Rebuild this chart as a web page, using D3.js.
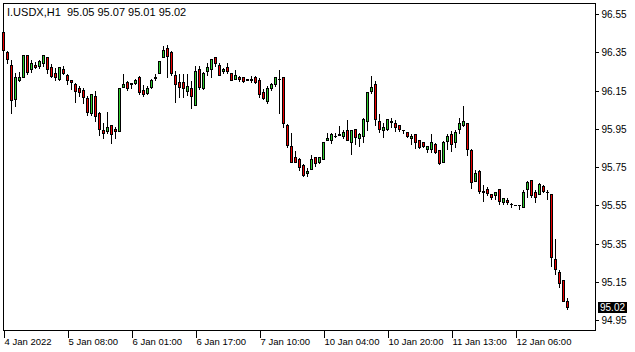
<!DOCTYPE html>
<html>
<head>
<meta charset="utf-8">
<script src="https://cdn.jsdelivr.net/npm/d3@7"></script>
<style>
    body { margin: 0; background: #fff; }
    svg text { font-family: "Liberation Sans", Arial, sans-serif; fill: #000; }
</style>
</head>
<body>
<div id="chart"></div>
<script>
// I.USDX H1 candles (oldest first)
var symbol = "I.USDX";
var timeframe = "H1";

var open = [96.456, 96.351, 96.283, 96.105, 96.205, 96.220, 96.335, 96.262, 96.283, 96.278,
    96.294, 96.325, 96.273, 96.241, 96.210, 96.262, 96.231, 96.205, 96.184, 96.163,
    96.152, 96.111, 96.032, 96.121, 96.032, 95.943, 95.938, 95.969, 95.948, 95.938,
    96.168, 96.194, 96.189, 96.189, 96.220, 96.152, 96.137, 96.168, 96.215, 96.241,
    96.325, 96.372, 96.351, 96.231, 96.194, 96.194, 96.147, 96.163, 96.074, 96.262,
    96.163, 96.252, 96.262, 96.325, 96.283, 96.252, 96.273, 96.241, 96.210, 96.220,
    96.220, 96.210, 96.208, 96.220, 96.205, 96.142, 96.095, 96.163, 96.184, 96.210,
    96.220, 95.969, 95.860, 95.802, 95.792, 95.760, 95.718, 95.739, 95.802, 95.776,
    95.792, 95.891, 95.891, 95.912, 95.917, 95.912, 95.943, 95.880, 95.948, 95.901,
    95.912, 95.990, 96.147, 96.184, 95.990, 95.943, 95.948, 95.990, 95.980, 95.969,
    95.943, 95.933, 95.901, 95.922, 95.891, 95.880, 95.844, 95.844, 95.870, 95.839,
    95.776, 95.886, 95.922, 95.880, 95.948, 95.969, 95.980, 95.839, 95.677, 95.729,
    95.622, 95.634, 95.609, 95.603, 95.634, 95.567, 95.578, 95.557, 95.553, 95.551,
    95.541, 95.634, 95.682, 95.619, 95.609, 95.650, 95.620, 95.609, 95.269, 95.201,
    95.159, 95.05];
var high = [96.461, 96.362, 96.314, 96.247, 96.252, 96.335, 96.335, 96.314, 96.304, 96.314,
    96.335, 96.325, 96.294, 96.273, 96.278, 96.283, 96.241, 96.210, 96.194, 96.179,
    96.168, 96.126, 96.137, 96.152, 96.043, 95.985, 96.043, 95.969, 95.964, 96.163,
    96.241, 96.205, 96.194, 96.215, 96.231, 96.184, 96.179, 96.215, 96.241, 96.304,
    96.388, 96.393, 96.362, 96.257, 96.241, 96.241, 96.241, 96.205, 96.283, 96.283,
    96.252, 96.299, 96.314, 96.325, 96.299, 96.273, 96.299, 96.241, 96.262, 96.231,
    96.220, 96.210, 96.231, 96.231, 96.220, 96.163, 96.179, 96.194, 96.220, 96.262,
    96.220, 95.980, 95.933, 95.839, 95.802, 95.771, 95.750, 95.818, 95.802, 95.802,
    95.880, 95.933, 95.933, 95.933, 95.969, 95.948, 96.001, 95.943, 95.954, 95.933,
    96.011, 96.147, 96.231, 96.205, 96.032, 95.985, 96.001, 96.011, 96.001, 95.969,
    95.948, 95.933, 95.928, 95.928, 95.891, 95.880, 95.860, 95.928, 95.880, 95.839,
    95.891, 95.928, 95.943, 95.948, 96.011, 96.074, 95.980, 95.849, 95.739, 95.739,
    95.661, 95.650, 95.609, 95.619, 95.634, 95.593, 95.593, 95.567, 95.553, 95.556,
    95.634, 95.682, 95.682, 95.634, 95.671, 95.661, 95.634, 95.609, 95.379, 95.216,
    95.159, 95.07];
var low = [96.330, 96.294, 96.032, 96.069, 96.199, 96.220, 96.236, 96.247, 96.267, 96.267,
    96.278, 96.241, 96.220, 96.205, 96.205, 96.236, 96.184, 96.158, 96.090, 96.121,
    96.084, 96.022, 96.022, 95.990, 95.917, 95.901, 95.928, 95.875, 95.901, 95.938,
    96.168, 96.152, 96.163, 96.184, 96.131, 96.121, 96.131, 96.163, 96.205, 96.241,
    96.325, 96.220, 96.231, 96.090, 96.116, 96.116, 96.126, 96.058, 96.074, 96.158,
    96.158, 96.231, 96.220, 96.278, 96.231, 96.241, 96.241, 96.205, 96.210, 96.199,
    96.194, 96.205, 96.194, 96.189, 96.116, 96.105, 96.084, 96.152, 96.173, 96.032,
    95.959, 95.854, 95.776, 95.776, 95.734, 95.703, 95.703, 95.739, 95.755, 95.771,
    95.792, 95.891, 95.875, 95.907, 95.917, 95.901, 95.891, 95.818, 95.870, 95.860,
    95.880, 95.943, 96.137, 95.969, 95.933, 95.907, 95.943, 95.959, 95.938, 95.938,
    95.928, 95.907, 95.870, 95.849, 95.849, 95.854, 95.828, 95.828, 95.823, 95.765,
    95.776, 95.844, 95.833, 95.854, 95.928, 95.964, 95.813, 95.640, 95.677, 95.614,
    95.572, 95.603, 95.583, 95.583, 95.556, 95.556, 95.556, 95.541, 95.549, 95.530,
    95.541, 95.593, 95.593, 95.567, 95.609, 95.619, 95.583, 95.232, 95.190, 95.122,
    95.049, 95.01];
var close = [96.362, 96.314, 96.100, 96.220, 96.220, 96.335, 96.247, 96.294, 96.273, 96.304,
    96.335, 96.262, 96.226, 96.220, 96.273, 96.241, 96.205, 96.194, 96.147, 96.142,
    96.116, 96.037, 96.131, 96.016, 95.948, 95.928, 95.959, 95.922, 95.938, 96.163,
    96.184, 96.163, 96.184, 96.205, 96.142, 96.131, 96.163, 96.205, 96.220, 96.304,
    96.362, 96.330, 96.241, 96.184, 96.168, 96.163, 96.173, 96.121, 96.252, 96.168,
    96.241, 96.273, 96.314, 96.294, 96.231, 96.262, 96.252, 96.205, 96.231, 96.210,
    96.199, 96.205, 96.207, 96.194, 96.131, 96.111, 96.163, 96.184, 96.220, 96.208,
    95.980, 95.865, 95.776, 95.776, 95.750, 95.708, 95.729, 95.792, 95.771, 95.802,
    95.880, 95.901, 95.922, 95.910, 95.922, 95.933, 95.891, 95.943, 95.907, 95.922,
    96.001, 96.142, 96.168, 96.001, 95.948, 95.959, 96.001, 95.985, 95.959, 95.948,
    95.941, 95.912, 95.912, 95.880, 95.854, 95.860, 95.860, 95.880, 95.828, 95.771,
    95.880, 95.912, 95.870, 95.933, 95.980, 95.990, 95.844, 95.671, 95.718, 95.624,
    95.619, 95.614, 95.593, 95.619, 95.572, 95.588, 95.567, 95.555, 95.549, 95.550,
    95.619, 95.671, 95.603, 95.593, 95.661, 95.624, 95.618, 95.279, 95.216, 95.143,
    95.049, 95.02];

// time labels sit on every 16th bar
var timeLabels = ["4 Jan 2022", "5 Jan 08:00", "6 Jan 01:00", "6 Jan 17:00", "7 Jan 10:00",
    "10 Jan 04:00", "10 Jan 20:00", "11 Jan 13:00", "12 Jan 06:00"];
var timeLabelBars = [0, 16, 32, 48, 64, 80, 96, 112, 128];
var priceTicks = [96.55, 96.35, 96.15, 95.95, 95.75, 95.55, 95.35, 95.15, 94.95];

(function () {
    var W = 635, H = 352;
    var frame = {left: 3, top: 3, right: 595, bottom: 330};
    var bullColor = "#2ecc2e", bearColor = "#ee0000";

    var svg = d3.select("#chart").append("svg")
        .attr("width", W)
        .attr("height", H)
        .attr("shape-rendering", "crispEdges");

    var n = open.length;
    var x = d3.scaleLinear().domain([0, n]).range([3.5, 3.5 + 4 * n]);
    var y = d3.scaleLinear().domain([94.95, 96.55]).range([320, 14]);
    var py = function (v) { return Math.round(y(v)) + 0.5; };

    // frame
    svg.append("rect")
        .attr("x", frame.left + 0.5)
        .attr("y", frame.top + 0.5)
        .attr("width", frame.right - frame.left)
        .attr("height", frame.bottom - frame.top)
        .attr("fill", "none")
        .attr("stroke", "#000");

    // candles
    var bars = d3.range(n).map(function (i) {
        return {i: i, o: open[i], h: high[i], l: low[i], c: close[i]};
    });
    var g = svg.append("g");
    var candle = g.selectAll("g.candle").data(bars).enter().append("g").attr("class", "candle");

    candle.append("line")
        .attr("x1", function (d) { return x(d.i); })
        .attr("x2", function (d) { return x(d.i); })
        .attr("y1", function (d) { return py(d.h); })
        .attr("y2", function (d) { return py(d.l) + 0.5; })
        .attr("stroke", "#000");

    candle.each(function (d) {
        var top = py(Math.max(d.o, d.c)), bot = py(Math.min(d.o, d.c));
        var sel = d3.select(this);
        if (bot - top < 1) { //--doji: flat dash
            sel.append("line")
                .attr("x1", x(d.i) - 1.5).attr("x2", x(d.i) + 1.5)
                .attr("y1", top).attr("y2", top)
                .attr("stroke", "#000");
        } else {
            sel.append("rect")
                .attr("x", x(d.i) - 1)
                .attr("y", top)
                .attr("width", 2)
                .attr("height", bot - top)
                .attr("fill", d.c > d.o ? bullColor : bearColor)
                .attr("stroke", "#000");
        }
    });

    // price axis on the right
    var yAxis = svg.append("g")
        .attr("transform", "translate(" + (frame.right + 0.5) + ",0)")
        .call(d3.axisRight(y).tickValues(priceTicks).tickSize(3).tickPadding(3).tickFormat(d3.format(".2f")));
    yAxis.select(".domain").remove();
    yAxis.selectAll("line").attr("stroke", "#000");
    yAxis.selectAll("text").style("font-size", "10px").attr("dy", "0.35em");

    // time axis
    var xAxis = svg.append("g")
        .attr("transform", "translate(0," + (frame.bottom + 0.5) + ")")
        .call(d3.axisBottom(x).tickValues(timeLabelBars).tickSize(7)
            .tickFormat(function (d, i) { return timeLabels[i]; }));
    xAxis.select(".domain").remove();
    xAxis.selectAll("line").attr("stroke", "#000");
    xAxis.selectAll("text")
        .style("font-size", "9.5px")
        .attr("text-anchor", "start")
        .attr("x", 0.5)
        .attr("y", 8)
        .attr("dy", "0.71em");

    // current price tag
    var last = close[n - 1];
    svg.append("rect")
        .attr("x", 598)
        .attr("y", Math.round(y(last)) - 5)
        .attr("width", 29)
        .attr("height", 11)
        .attr("fill", "#000");
    svg.append("text")
        .attr("x", 600)
        .attr("y", y(last) + 0.5)
        .attr("dy", "0.36em")
        .style("font-size", "10px")
        .style("fill", "#fff")
        .text(d3.format(".2f")(last));

    // header
    svg.append("text")
        .attr("x", 7)
        .attr("y", 15.5)
        .style("font-size", "11px")
        .style("white-space", "pre")
        .text(symbol + "," + timeframe + "  " + [open[n - 1], high[n - 1], low[n - 1], close[n - 1]]
            .map(d3.format(".2f")).join(" "));
})();
</script>
</body>
</html>
